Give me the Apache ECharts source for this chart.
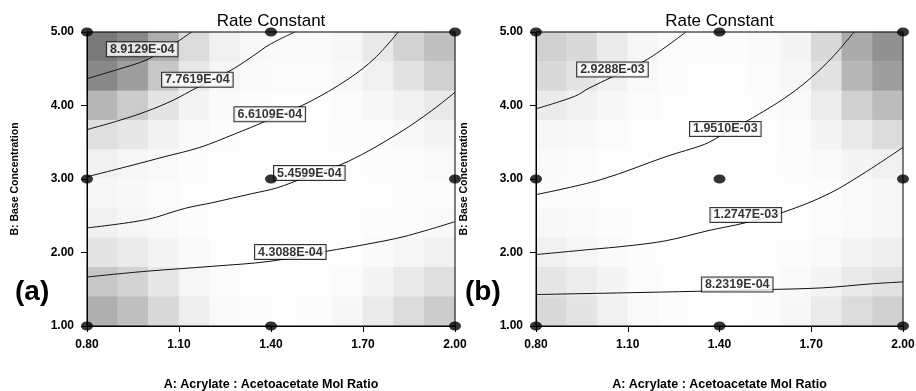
<!DOCTYPE html>
<html>
<head>
<meta charset="utf-8">
<script src="https://cdn.jsdelivr.net/npm/echarts@6/dist/echarts.min.js"></script>
<style>
  html, body { margin: 0; padding: 0; background: #fff; }
  #chart { width: 916px; height: 391px; }
</style>
</head>
<body>
<div id="chart"></div>
<script>
// Axis ticks shared by both panels
const xTicks = [0.80, 1.10, 1.40, 1.70, 2.00];
const yTicks = [1.00, 2.00, 3.00, 4.00, 5.00];
const xName = 'A: Acrylate : Acetoacetate Mol Ratio';
const yName = 'B: Base Concentration';
const titleText = 'Rate Constant';

// Design points (A, B) of the experiment
const designPoints = [
  [0.8, 1], [1.4, 1], [2.0, 1],
  [0.8, 3], [1.4, 3], [2.0, 3],
  [0.8, 5], [1.4, 5], [2.0, 5]
];

// Background shading (darkness 0-100), 12 columns over A = 0.8..2.0,
// rows from B = 5.0 (top) down to B = 1.0 (bottom)
const shadeA = [
  [95, 88, 70, 45, 22, 10, 6, 6, 14, 32, 50, 62],
  [88, 78, 58, 34, 15, 6, 4, 4, 10, 24, 40, 52],
  [66, 55, 38, 18, 6, 2, 1, 1, 5, 12, 22, 32],
  [42, 34, 20, 8, 2, 0, 0, 0, 2, 5, 10, 16],
  [22, 15, 8, 3, 0, 0, 0, 0, 0, 2, 5, 8],
  [14, 10, 5, 1, 0, 0, 0, 0, 0, 1, 3, 5],
  [22, 15, 8, 2, 0, 0, 0, 0, 0, 2, 5, 9],
  [38, 30, 18, 6, 1, 0, 0, 0, 1, 6, 14, 22],
  [58, 50, 34, 15, 4, 1, 0, 1, 5, 18, 32, 42],
  [70, 62, 46, 26, 9, 2, 1, 3, 12, 30, 45, 55]
];
const shadeB = [
  [52, 46, 30, 14, 5, 3, 3, 6, 18, 46, 72, 84],
  [46, 38, 22, 9, 3, 1, 1, 4, 14, 40, 66, 78],
  [30, 22, 12, 4, 1, 0, 0, 2, 9, 28, 52, 64],
  [15, 10, 5, 1, 0, 0, 0, 1, 4, 16, 32, 44],
  [7, 4, 1, 0, 0, 0, 0, 0, 2, 7, 16, 24],
  [5, 2, 0, 0, 0, 0, 0, 0, 1, 3, 9, 14],
  [10, 6, 2, 0, 0, 0, 0, 0, 1, 4, 9, 14],
  [22, 15, 7, 2, 0, 0, 0, 0, 2, 9, 18, 26],
  [36, 28, 16, 5, 1, 0, 0, 1, 6, 18, 32, 40],
  [46, 38, 24, 9, 2, 1, 1, 3, 12, 30, 44, 52]
];

// Contour levels, panel (a)
const levelsA = ['8.9129E-04', '7.7619E-04', '6.6109E-04', '5.4599E-04', '4.3088E-04'];
const contoursA = [
  [[0.8, 4.365], [0.90, 4.49], [0.994, 4.62], [1.07, 4.80], [1.141, 5.0]],
  [[0.8, 3.672], [0.9, 3.79], [0.994, 3.92], [1.08, 4.07], [1.157, 4.24], [1.22, 4.37],
   [1.282, 4.51], [1.34, 4.67], [1.396, 4.83], [1.478, 5.0]],
  [[0.8, 3.03], [0.95, 3.19], [1.05, 3.30], [1.168, 3.43], [1.28, 3.61], [1.385, 3.79],
   [1.521, 4.04], [1.652, 4.36], [1.739, 4.646], [1.815, 5.0]],
  [[0.8, 2.335], [0.994, 2.448], [1.119, 2.60], [1.211, 2.68], [1.337, 2.80], [1.42, 2.88],
   [1.51, 3.02], [1.652, 3.24], [1.815, 3.62], [1.924, 3.93], [2.0, 4.18]],
  [[0.8, 1.667], [0.994, 1.745], [1.211, 1.813], [1.396, 1.88], [1.581, 2.017],
   [1.706, 2.108], [1.837, 2.22], [2.0, 2.42]]
];
const labelAtA = [[0.98, 4.765], [1.16, 4.35], [1.396, 3.88], [1.525, 3.08], [1.463, 2.006]];

// Contour levels, panel (b)
const levelsB = ['2.9288E-03', '1.9510E-03', '1.2747E-03', '8.2319E-04'];
const contoursB = [
  [[0.8, 3.955], [0.926, 4.124], [0.974, 4.238], [1.05, 4.39], [1.165, 4.63], [1.29, 5.0]],
  [[0.8, 2.788], [1.011, 2.99], [1.229, 3.31], [1.35, 3.47], [1.40, 3.58], [1.544, 3.92],
   [1.63, 4.15], [1.70, 4.38], [1.77, 4.66], [1.84, 5.0]],
  [[0.8, 1.972], [0.974, 2.04], [1.1, 2.09], [1.225, 2.16], [1.366, 2.30], [1.48, 2.40],
   [1.61, 2.55], [1.758, 2.80], [1.88, 3.10], [2.0, 3.43]],
  [[0.8, 1.428], [1.083, 1.451], [1.333, 1.473], [1.55, 1.495], [1.737, 1.519], [1.90, 1.575], [2.0, 1.60]]
];
const labelAtB = [[1.05, 4.49], [1.419, 3.68], [1.486, 2.51], [1.458, 1.564]];

const panelTags = ['(a)', '(b)'];

const FONT = '"Liberation Sans", Arial, sans-serif';
const PLOT_TOP = 32;
const PLOT_H = 294;
const panels = [
  { left: 87, width: 368, shade: shadeA, contours: contoursA, levels: levelsA, labelAt: labelAtA },
  { left: 536, width: 367, shade: shadeB, contours: contoursB, levels: levelsB, labelAt: labelAtB }
];

const colCats = shadeA[0].map((_, i) => String(i));
const rowCats = shadeA.map((_, i) => String(i));

function shadeData(grid) {
  const out = [];
  const nRows = grid.length;
  grid.forEach((row, r) => {
    row.forEach((v, c) => out.push([c, nRows - 1 - r, v]));
  });
  return out;
}

const grids = [], xAxes = [], yAxes = [], series = [], graphics = [];
const heatmapIdx = [];

panels.forEach((p, i) => {
  // shading grid (category axes) underneath
  grids.push({ left: p.left, top: PLOT_TOP, width: p.width, height: PLOT_H, z: 0,
    outerBoundsMode: 'none' });
  xAxes.push({ gridIndex: 2 * i, type: 'category', data: colCats, show: false });
  yAxes.push({ gridIndex: 2 * i, type: 'category', data: rowCats, show: false });
  // value grid with the frame
  grids.push({ left: p.left, top: PLOT_TOP, width: p.width, height: PLOT_H, z: 3,
    outerBoundsMode: 'none',
    show: true, borderColor: '#000', borderWidth: 1, backgroundColor: 'transparent' });
  xAxes.push({
    gridIndex: 2 * i + 1, type: 'value', min: 0.8, max: 2.0, z: 4,
    axisLine: { show: true, lineStyle: { color: '#000', width: 1 } },
    axisTick: { show: true, length: 6, customValues: xTicks, lineStyle: { color: '#000' } },
    axisLabel: { customValues: xTicks, formatter: v => v.toFixed(2), color: '#000',
      fontFamily: FONT, fontSize: 12, fontWeight: 'bold', margin: 13 },
    splitLine: { show: false },
    name: xName, nameLocation: 'middle', nameGap: 52,
    nameTextStyle: { color: '#000', fontFamily: FONT, fontSize: 12.5, fontWeight: 'bold' }
  });
  yAxes.push({
    gridIndex: 2 * i + 1, type: 'value', min: 1, max: 5, z: 4,
    axisLine: { show: true, lineStyle: { color: '#000', width: 1 } },
    axisTick: { show: true, length: 6, customValues: yTicks, lineStyle: { color: '#000' } },
    axisLabel: { customValues: yTicks, formatter: v => v.toFixed(2), color: '#000',
      fontFamily: FONT, fontSize: 12, fontWeight: 'bold', margin: 13 },
    splitLine: { show: false },
    name: yName, nameLocation: 'middle', nameGap: 66,
    nameTextStyle: { color: '#000', fontFamily: FONT, fontSize: 10.5, fontWeight: 'bold' }
  });

  heatmapIdx.push(series.length);
  series.push({
    type: 'heatmap', xAxisIndex: 2 * i, yAxisIndex: 2 * i, z: 1,
    data: shadeData(p.shade), progressive: 0, silent: true,
    itemStyle: { borderWidth: 0 }, emphasis: { disabled: true }
  });

  p.contours.forEach((pts) => {
    series.push({
      type: 'line', xAxisIndex: 2 * i + 1, yAxisIndex: 2 * i + 1, z: 5,
      data: pts, symbol: 'none', smooth: 0.35, clip: true, silent: true,
      lineStyle: { color: '#111', width: 1 }
    });
  });

  series.push({
    type: 'scatter', xAxisIndex: 2 * i + 1, yAxisIndex: 2 * i + 1, z: 8,
    symbolSize: 0, silent: true,
    data: p.labelAt.map((pt, k) => ({ value: pt, name: p.levels[k] })),
    label: {
      show: true, position: 'inside', formatter: d => d.name,
      color: '#000', fontFamily: FONT, fontSize: 12.5, fontWeight: 'bold',
      backgroundColor: '#fff', borderColor: '#000', borderWidth: 1, padding: [1, 3, 0, 3]
    }
  });

  series.push({
    type: 'scatter', xAxisIndex: 2 * i + 1, yAxisIndex: 2 * i + 1, z: 9,
    symbol: 'circle', symbolSize: [12, 9], silent: true,
    itemStyle: { color: '#000' }, data: designPoints
  });

  graphics.push({
    type: 'text', x: p.left + p.width / 2, y: 21, z: 10,
    style: { text: titleText, fill: '#000', font: '17px ' + FONT, align: 'center', verticalAlign: 'middle' }
  });
  graphics.push({
    type: 'text', x: i === 0 ? 15 : 465, y: 292, z: 10,
    style: { text: panelTags[i], fill: '#000', font: 'bold 28px ' + FONT, align: 'left', verticalAlign: 'middle' }
  });
});

const chart = echarts.init(document.getElementById('chart'), null, { renderer: 'canvas' });
chart.setOption({
  animation: false,
  backgroundColor: '#fff',
  grid: grids,
  xAxis: xAxes,
  yAxis: yAxes,
  visualMap: {
    show: false, type: 'continuous', min: 0, max: 100, seriesIndex: heatmapIdx,
    inRange: { color: ['#fdfdfd', '#f3f3f3', '#e2e2e2', '#c4c4c4', '#9a9a9a', '#6e6e6e'] }
  },
  graphic: graphics,
  series: series
});
</script>
</body>
</html>
